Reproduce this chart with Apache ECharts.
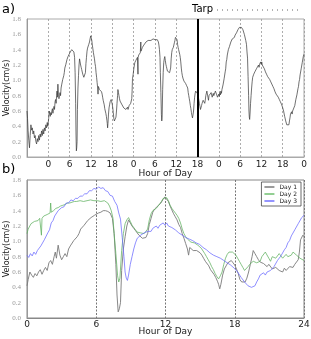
<!DOCTYPE html>
<html><head><meta charset="utf-8">
<script src="https://cdn.jsdelivr.net/npm/echarts@6/dist/echarts.min.js"></script>
<style>html,body{margin:0;padding:0;background:#fff}#c{width:311px;height:339px}</style>
</head><body><div id="c"></div>
<script>
// ---- data (hours, velocity cm/s) ----
var preHours = [-6.0,-5.85,-5.7,-5.5,-5.3,-5.1,-4.9,-4.7,-4.5,-4.3,-4.1,-3.9,-3.7,-3.5,-3.3,-3.1,-2.9,-2.7,-2.5,-2.3,-2.1,-1.9,-1.7,-1.5,-1.3,-1.1,-0.9,-0.7,-0.5,-0.3,-0.15];
var preVel   = [0.60,0.50,0.35,0.22,0.12,0.28,0.42,0.35,0.38,0.30,0.34,0.25,0.28,0.20,0.17,0.24,0.20,0.28,0.22,0.30,0.26,0.34,0.28,0.36,0.30,0.38,0.34,0.42,0.38,0.45,0.40];

var day1Hours = [0.0,0.1,0.25,0.4,0.55,0.7,0.85,1.0,1.15,1.3,1.45,1.6,1.75,1.9,2.05,2.2,2.35,2.45,2.55,2.7,2.85,3.0,3.15,3.3,3.45,3.6,3.75,3.9,4.05,4.2,4.35,4.5,4.65,4.8,4.95,5.1,5.25,5.4,5.55,5.7,5.85,6.0,6.2,6.4,6.6,6.8,7.0,7.2,7.4,7.55,7.7,7.8,7.9,8.0,8.1,8.2,8.35,8.5,8.65,8.8,8.95,9.1,9.25,9.4,9.55,9.7,9.85,10.0,10.15,10.3,10.45,10.6,10.75,10.9,11.05,11.2,11.4,11.6,11.8,11.95,12.1,12.25,12.4,12.55,12.7,12.85,13.0,13.15,13.3,13.45,13.6,13.75,13.9,14.0,14.1,14.25,14.4,14.55,14.7,14.85,15.0,15.15,15.3,15.45,15.6,15.75,15.9,16.05,16.2,16.35,16.5,16.6,16.7,16.8,16.95,17.1,17.25,17.4,17.55,17.7,17.85,18.0,18.15,18.3,18.45,18.6,18.75,18.9,19.05,19.2,19.35,19.5,19.6,19.75,19.9,20.05,20.2,20.35,20.5,20.65,20.8,20.95,21.1,21.25,21.4,21.55,21.7,21.85,22.0,22.15,22.3,22.45,22.6,22.75,22.9,23.05,23.2,23.35,23.5,23.6,23.7,23.8,23.9,24.0];
var day1Vel = [0.42,0.50,0.60,0.56,0.53,0.58,0.55,0.60,0.63,0.57,0.62,0.66,0.62,0.72,0.75,0.70,0.80,0.86,0.78,0.95,0.82,0.76,0.80,0.84,0.80,0.90,0.94,0.96,1.01,0.99,1.06,1.10,1.16,1.14,1.21,1.23,1.27,1.29,1.31,1.31,1.34,1.35,1.37,1.38,1.40,1.40,1.39,1.37,1.30,1.10,0.70,0.30,0.08,0.12,0.20,0.62,0.90,1.06,1.20,1.28,1.24,1.20,1.17,1.14,1.12,1.08,1.06,1.04,1.03,1.05,1.10,1.22,1.30,1.38,1.42,1.44,1.47,1.50,1.55,1.58,1.56,1.52,1.46,1.41,1.36,1.32,1.28,1.22,1.18,1.10,1.04,0.97,0.90,0.82,0.92,0.90,0.88,0.90,0.88,0.86,0.85,0.82,0.78,0.74,0.72,0.68,0.63,0.62,0.57,0.53,0.48,0.44,0.38,0.44,0.56,0.64,0.68,0.72,0.74,0.75,0.72,0.69,0.64,0.58,0.50,0.47,0.45,0.47,0.52,0.60,0.70,0.80,0.88,0.84,0.80,0.76,0.73,0.74,0.71,0.69,0.67,0.70,0.68,0.64,0.62,0.66,0.65,0.62,0.63,0.60,0.65,0.62,0.60,0.67,0.69,0.66,0.70,0.72,0.76,0.86,1.02,1.00,1.08,1.06];

var day2Hours = [0.0,0.1,0.2,0.35,0.5,0.65,0.8,0.95,1.1,1.2,1.25,1.3,1.45,1.6,1.75,1.9,2.0,2.05,2.1,2.3,2.5,2.7,2.9,3.1,3.3,3.5,3.7,3.9,4.1,4.3,4.6,4.9,5.2,5.5,5.8,6.1,6.4,6.7,6.85,7.0,7.15,7.3,7.45,7.55,7.7,7.85,7.95,8.05,8.2,8.35,8.5,8.65,8.8,8.95,9.1,9.25,9.4,9.55,9.7,9.85,10.0,10.15,10.3,10.45,10.6,10.75,10.9,11.05,11.2,11.35,11.5,11.65,11.8,11.95,12.1,12.25,12.4,12.55,12.7,12.85,13.0,13.15,13.3,13.45,13.6,13.75,13.9,14.05,14.2,14.35,14.5,14.65,14.8,14.95,15.1,15.25,15.4,15.55,15.7,15.85,16.0,16.15,16.3,16.45,16.6,16.75,16.9,17.05,17.2,17.35,17.5,17.65,17.8,17.95,18.1,18.25,18.4,18.55,18.7,18.85,19.0,19.15,19.3,19.45,19.6,19.75,19.9,20.05,20.2,20.35,20.5,20.65,20.8,20.95,21.1,21.25,21.4,21.55,21.7,21.85,22.0,22.15,22.3,22.45,22.6,22.75,22.9,23.05,23.2,23.35,23.5,23.65,23.8,24.0];
var day2Vel = [1.10,1.16,1.14,1.23,1.21,1.26,1.28,1.27,1.30,1.28,1.08,1.30,1.33,1.32,1.35,1.36,1.37,1.50,1.38,1.40,1.43,1.44,1.46,1.47,1.48,1.50,1.50,1.51,1.52,1.52,1.53,1.52,1.53,1.54,1.53,1.53,1.52,1.53,1.55,1.50,1.46,1.40,1.30,1.10,0.84,0.55,0.47,0.52,0.88,1.10,1.23,1.28,1.31,1.26,1.21,1.18,1.15,1.12,1.10,1.11,1.12,1.10,1.12,1.16,1.28,1.36,1.40,1.41,1.43,1.46,1.49,1.52,1.56,1.58,1.57,1.53,1.47,1.43,1.40,1.38,1.34,1.30,1.24,1.16,1.10,1.06,1.03,1.02,0.99,0.97,0.98,0.96,0.95,0.93,0.91,0.90,0.84,0.80,0.76,0.72,0.67,0.63,0.58,0.54,0.51,0.55,0.60,0.70,0.78,0.83,0.86,0.88,0.86,0.84,0.82,0.78,0.74,0.70,0.66,0.62,0.64,0.67,0.70,0.72,0.74,0.75,0.72,0.70,0.74,0.80,0.82,0.86,0.84,0.78,0.74,0.80,0.82,0.78,0.80,0.84,0.82,0.78,0.80,0.83,0.80,0.79,0.82,0.86,0.84,0.82,0.80,0.78,0.80,0.75];

var day3Hours = [0.0,0.15,0.3,0.45,0.6,0.75,0.9,1.05,1.2,1.35,1.5,1.65,1.8,1.95,2.1,2.25,2.4,2.55,2.7,2.85,3.0,3.2,3.4,3.6,3.8,4.0,4.2,4.4,4.6,4.8,5.0,5.2,5.4,5.6,5.8,6.0,6.2,6.4,6.6,6.8,7.0,7.2,7.4,7.6,7.8,7.95,8.1,8.25,8.4,8.5,8.6,8.7,8.8,8.95,9.1,9.25,9.4,9.55,9.7,9.85,10.0,10.15,10.3,10.45,10.6,10.75,10.9,11.05,11.2,11.35,11.5,11.65,11.8,11.95,12.1,12.25,12.4,12.55,12.7,12.85,13.0,13.15,13.3,13.45,13.6,13.75,13.9,14.05,14.2,14.35,14.5,14.65,14.8,14.95,15.1,15.25,15.4,15.55,15.7,15.85,16.0,16.15,16.3,16.45,16.6,16.75,16.9,17.05,17.2,17.35,17.5,17.65,17.8,17.95,18.1,18.25,18.4,18.55,18.7,18.85,19.0,19.15,19.3,19.45,19.6,19.75,19.9,20.05,20.2,20.35,20.5,20.65,20.8,20.95,21.1,21.25,21.4,21.55,21.7,21.85,22.0,22.15,22.3,22.45,22.6,22.75,22.9,23.05,23.2,23.35,23.5,23.65,23.8,24.0];
var day3Vel = [0.82,0.79,0.84,0.81,0.86,0.83,0.88,0.89,0.94,0.96,1.02,1.04,1.11,1.15,1.24,1.27,1.33,1.35,1.40,1.40,1.44,1.45,1.50,1.50,1.54,1.53,1.56,1.56,1.59,1.59,1.62,1.62,1.66,1.66,1.69,1.68,1.71,1.69,1.70,1.66,1.65,1.60,1.59,1.52,1.47,1.37,1.29,1.05,0.80,0.60,0.52,0.49,0.56,0.70,0.80,0.90,0.98,1.04,1.06,1.08,1.07,1.11,1.10,1.13,1.15,1.13,1.17,1.16,1.20,1.17,1.21,1.21,1.24,1.21,1.24,1.20,1.22,1.18,1.19,1.15,1.16,1.11,1.11,1.08,1.09,1.05,1.07,1.03,1.04,1.01,1.02,0.98,0.99,0.96,0.96,0.92,0.92,0.89,0.89,0.85,0.85,0.82,0.83,0.80,0.81,0.78,0.79,0.75,0.76,0.72,0.73,0.69,0.69,0.65,0.64,0.60,0.58,0.53,0.52,0.47,0.46,0.42,0.43,0.40,0.41,0.42,0.47,0.51,0.56,0.57,0.59,0.56,0.60,0.58,0.62,0.61,0.67,0.69,0.75,0.76,0.81,0.83,0.89,0.92,0.98,1.01,1.07,1.09,1.15,1.17,1.23,1.25,1.31,1.34];

var tarpHour = 42;
var yTicks = ['0.0','0.2','0.4','0.6','0.8','1.0','1.2','1.4','1.6','1.8'];
var dayNames = ['Day 1','Day 2','Day 3'];

// ---- build ----
function pairs(h, v, off) { var o = []; for (var i = 0; i < h.length; i++) o.push([h[i] + off, v[i]]); return o; }
var allTop = pairs(preHours, preVel, 0)
  .concat(pairs(day1Hours, day1Vel, 0).slice(0, -1))
  .concat(pairs(day2Hours, day2Vel, 24).slice(0, -1))
  .concat(pairs(day3Hours, day3Vel, 48));

var serif = 'Liberation Serif';
var sans = 'DejaVu Sans';
function yAxis(gi) {
  return {
    gridIndex: gi, type: 'value', min: 0, max: 1.8, interval: 0.2,
    name: 'Velocity(cm/s)', nameLocation: 'middle', nameGap: 16, nameMoveOverlap: false,
    nameTextStyle: { fontFamily: sans, fontSize: 8, color: '#222' },
    axisLine: { show: true, onZero: false, lineStyle: { color: '#999', width: 1 } },
    axisTick: { show: false },
    splitLine: { show: false },
    axisLabel: { fontFamily: serif, fontSize: 7, color: '#999', margin: 6,
      formatter: function (v) { return yTicks[Math.round(v / 0.2)]; } }
  };
}

var chart = echarts.init(document.getElementById('c'), null, { renderer: 'canvas' });
chart.setOption({
  animation: false,
  backgroundColor: '#fff',
  grid: [
    { left: 27, right: 7, top: 19, height: 138, show: true, borderColor: '#aaa', borderWidth: 1,
      containLabel: false, outerBoundsMode: 'none' },
    { left: 27, right: 7, top: 180, height: 138, show: true, borderColor: '#888', borderWidth: 1,
      containLabel: false, outerBoundsMode: 'none' }
  ],
  xAxis: [
    { gridIndex: 0, type: 'value', min: -6, max: 72, interval: 6,
      name: 'Hour of Day', nameLocation: 'middle', nameGap: 12, nameMoveOverlap: false,
      nameTextStyle: { fontFamily: sans, fontSize: 9, color: '#222' },
      axisLine: { show: true, onZero: false, lineStyle: { color: '#aaa' } }, axisTick: { show: false },
      axisLabel: { fontFamily: sans, fontSize: 9, color: '#222', margin: 3,
        formatter: function (v) { return v < 0 ? '' : String(((v % 24) + 24) % 24); } },
      splitLine: { show: true, lineStyle: { color: '#999', type: [2, 2], width: 0.8 } } },
    { gridIndex: 1, type: 'value', min: 0, max: 24, interval: 6,
      name: 'Hour of Day', nameLocation: 'middle', nameGap: 9, nameMoveOverlap: false,
      nameTextStyle: { fontFamily: sans, fontSize: 9, color: '#222' },
      axisLine: { show: true, onZero: false, lineStyle: { color: '#888' } }, axisTick: { show: false },
      axisLabel: { fontFamily: sans, fontSize: 9, color: '#222', margin: 2 },
      splitLine: { show: true, lineStyle: { color: '#777', type: [2, 1.5], width: 1 } } }
  ],
  yAxis: [yAxis(0), yAxis(1)],
  legend: {
    data: dayNames, orient: 'vertical', right: 10, top: 182,
    backgroundColor: '#fff', borderColor: '#444', borderWidth: 0.8, borderRadius: 0,
    padding: [2, 4, 2, 3], itemGap: 1, itemWidth: 10, itemHeight: 1.5, icon: 'rect',
    textStyle: { fontFamily: sans, fontSize: 6, color: '#222' }
  },
  series: [
    { name: 'Velocity', type: 'line', xAxisIndex: 0, yAxisIndex: 0, data: allTop,
      showSymbol: false, lineStyle: { color: '#333', width: 0.7 },
      markLine: { silent: true, symbol: 'none', label: { show: false },
        lineStyle: { color: '#000', width: 2, type: 'solid' }, data: [{ xAxis: tarpHour }] } },
    { name: dayNames[0], type: 'line', xAxisIndex: 1, yAxisIndex: 1, data: pairs(day1Hours, day1Vel, 0),
      showSymbol: false, color: '#7a7a7a', lineStyle: { color: '#7a7a7a', width: 1, opacity: 0.9 } },
    { name: dayNames[1], type: 'line', xAxisIndex: 1, yAxisIndex: 1, data: pairs(day2Hours, day2Vel, 0),
      showSymbol: false, color: '#6fbf6f', lineStyle: { color: '#5fb05f', width: 1, opacity: 0.75 } },
    { name: dayNames[2], type: 'line', xAxisIndex: 1, yAxisIndex: 1, data: pairs(day3Hours, day3Vel, 0),
      showSymbol: false, color: '#7070ff', lineStyle: { color: '#6a6aff', width: 1, opacity: 0.75 } }
  ],
  graphic: [
    { type: 'text', left: 2, top: 3, style: { text: 'a)', font: '13px "DejaVu Sans"', fill: '#000' } },
    { type: 'text', left: 2, top: 163, style: { text: 'b)', font: '13px "DejaVu Sans"', fill: '#000' } },
    { type: 'text', left: 192, top: 4, style: { text: 'Tarp', font: '10px "DejaVu Sans"', fill: '#000' } },
    { type: 'line', shape: { x1: 217, y1: 10, x2: 300, y2: 10 },
      style: { stroke: '#666', lineWidth: 1, lineDash: [1, 4] } }
  ]
});
</script></body></html>
